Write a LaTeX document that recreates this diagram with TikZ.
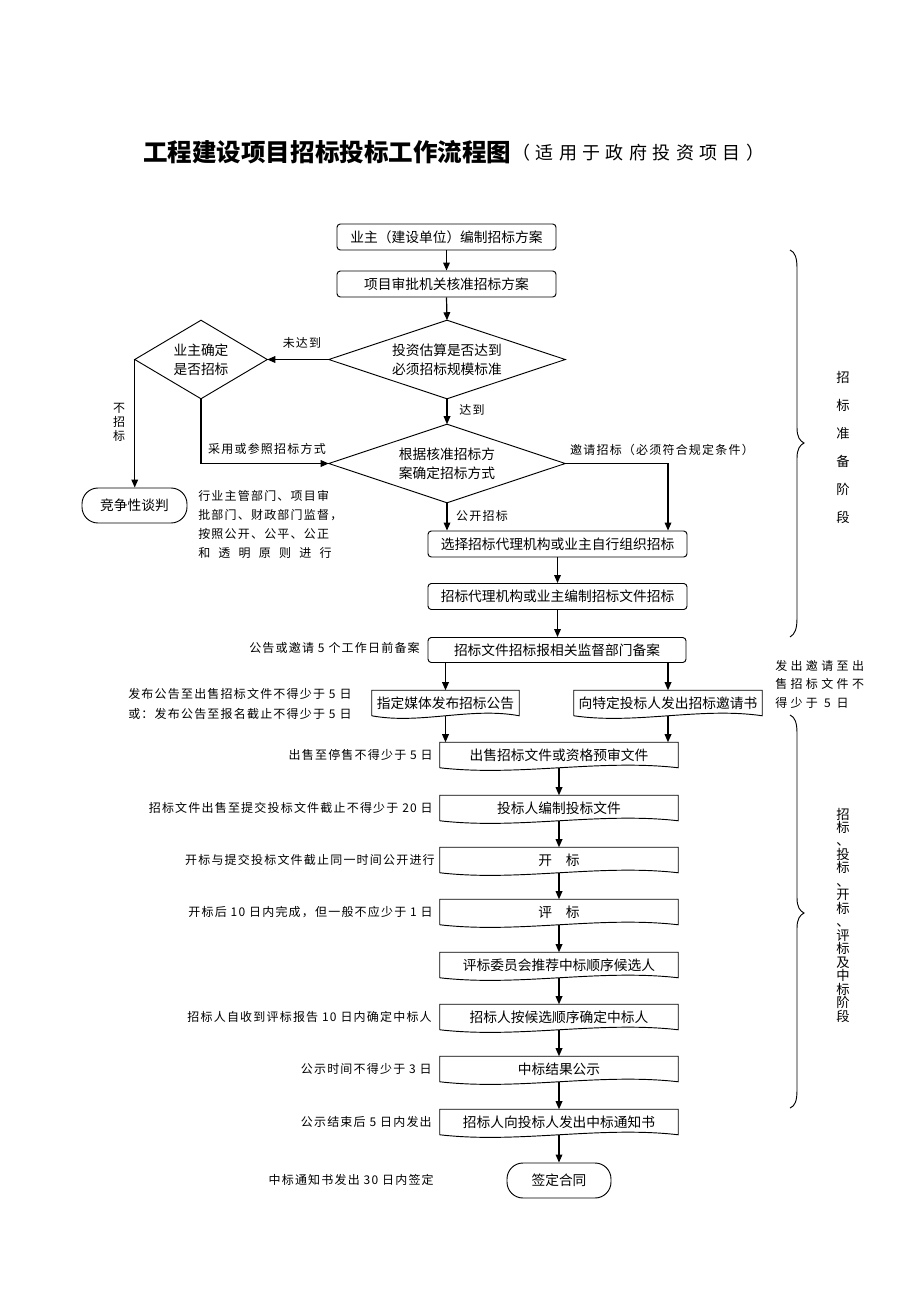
\documentclass[tikz,border=0pt]{standalone}
\usepackage{fontspec}
\setmainfont{Noto Sans CJK SC}
\newfontfamily\labf{Noto Sans CJK SC}[LetterSpace=10]
\newfontfamily\labw{Noto Sans CJK SC}[LetterSpace=28]
\newfontfamily\subf{Noto Sans CJK SC}[LetterSpace=30]
\usetikzlibrary{arrows.meta,calc}
\begin{document}
\begin{tikzpicture}[x=0.75pt,y=0.75pt,
  every node/.style={inner sep=0pt},
  bt/.style={font=\fontsize{10.3}{14.25}\selectfont},
  box/.style={bt, draw, line width=0.7pt, rounded corners=2.5pt, minimum width=#1*0.75pt, minimum height=26*0.75pt},
  doc/.style={bt, minimum width=#1*0.75pt, minimum height=25*0.75pt},
  dia/.style={bt, align=center, minimum width=#1*0.75pt, minimum height=78*0.75pt},
  stad/.style={bt, draw, line width=0.7pt, rounded corners=12pt},
  arr/.style={-{Triangle[length=6pt,width=5pt]}, line width=0.9pt},
  lab/.style={font=\labf\fontsize{9}{11}\selectfont},
  brace/.style={line width=0.7pt}
]
\useasboundingbox (0,0) rectangle (920,-1302);
\fill[white] (0,0) rectangle (920,-1302);

% title
\node[anchor=west, font=\bfseries\fontsize{18.4}{20}\selectfont] (title) at (143,-152) {工程建设项目招标投标工作流程图};
\node[anchor=west, font=\subf\fontsize{13.5}{15}\selectfont] (sub) at (512,-153) {（适用于政府投资项目）};

% main nodes
\node[box=219] (b1) at (446.5,-237) {业主（建设单位）编制招标方案};
\node[box=219] (b2) at (446.5,-284) {项目审批机关核准招标方案};
\node[dia=236] (d1) at (447,-359.5) {投资估算是否达到\\必须招标规模标准};
\node[dia=132] (d2) at (201,-359.5) {业主确定\\是否招标};
\node[dia=236] (d3) at (447,-463.5) {根据核准招标方\\案确定招标方式};
\node[stad, minimum width=105*0.75pt, minimum height=35*0.75pt] (neg) at (134.5,-505.5) {竞争性谈判};
\node[box=259] (b3) at (557.5,-544) {选择招标代理机构或业主自行组织招标};
\node[box=259] (b4) at (557.5,-596.5) {招标代理机构或业主编制招标文件招标};
\node[box=258, minimum height=25*0.75pt] (b5) at (557,-650) {招标文件招标报相关监督部门备案};
\node[doc=147] (lb) at (445.5,-703) {指定媒体发布招标公告};
\node[doc=188] (rb) at (668,-703) {向特定投标人发出招标邀请书};
\node[doc=238] (s1) at (559,-755) {出售招标文件或资格预审文件};
\node[doc=238] (s2) at (559,-808) {投标人编制投标文件};
\node[doc=238] (s3) at (559,-860) {开\quad 标};
\node[doc=238] (s4) at (559,-912) {评\quad 标};
\node[doc=238] (s5) at (559,-965) {评标委员会推荐中标顺序候选人};
\node[doc=238] (s6) at (559,-1017) {招标人按候选顺序确定中标人};
\node[doc=238] (s7) at (559,-1069) {中标结果公示};
\node[doc=238] (s8) at (559,-1122) {招标人向投标人发出中标通知书};
\node[stad, minimum width=104*0.75pt, minimum height=35*0.75pt] (end) at (559,-1180.5) {签定合同};

% diamond outlines
\foreach \n in {d1,d2,d3}{
  \draw[line width=0.7pt] (\n.north) -- (\n.east) -- (\n.south) -- (\n.west) -- cycle;
}
% document shapes
\foreach \n in {lb,rb,s1,s2,s3,s4,s5,s6,s7,s8}{
  \draw[line width=0.7pt] (\n.south west) -- (\n.north west) -- (\n.north east) -- (\n.south east)
    .. controls ($(\n.south east)!0.33!(\n.south west)+(0,9)$) and ($(\n.south east)!0.67!(\n.south west)+(0,-9)$) .. (\n.south west);
}

% connectors
\draw[arr] (b1.south) -- (b2.north);
\draw[arr] (b2.south) -- (d1.north);
\draw[arr] (d1.west) -- (d2.east);
\draw[arr] (d2.west) -- (d2.west |- neg.north);
\draw[arr] (d2.south) -- (d2.south |- d3.west) -- (d3.west);
\draw[arr] (d1.south) -- (d3.north);
\draw[arr] (d3.east) -- (d3.east -| rb.north) -- (rb.north |- b3.north);
\draw[arr] (d3.south) -- (d3.south |- b3.north);
\draw[arr] (b3.south) -- (b4.north);
\draw[arr] (b4.south) -- (b4.south |- b5.north);
\draw[arr] (b5.south -| lb.north) -- (lb.north);
\draw[arr] (b5.south -| rb.north) -- (rb.north);
\draw[arr] (lb.south) -- (lb.south |- s1.north);
\draw[arr] (rb.south) -- (rb.south |- s1.north);
\draw[arr] (s1.south) -- (s2.north);
\draw[arr] (s2.south) -- (s3.north);
\draw[arr] (s3.south) -- (s4.north);
\draw[arr] (s4.south) -- (s5.north);
\draw[arr] (s5.south) -- (s6.north);
\draw[arr] (s6.south) -- (s7.north);
\draw[arr] (s7.south) -- (s8.north);
\draw[arr] (s8.south) -- (end.north);

% connector labels
\node[lab] (t1) at (302,-343) {未达到};
\node[lab] (t2) at (472,-410) {达到};
\node[lab, align=center, font=\labf\fontsize{9}{10.5}\selectfont] (t3) at (119,-422) {不\\招\\标};
\node[lab] (t4) at (267,-449) {采用或参照招标方式};
\node[lab] (t5) at (662,-450) {邀请招标（必须符合规定条件）};
\node[lab] (t6) at (482,-516) {公开招标};
\node[lab, anchor=north west, align=left, font=\labf\fontsize{9}{14.25}\selectfont] (t7) at (198,-490)
  {行业主管部门、项目审\\批部门、财政部门监督，\\按照公开、公平、公正\\\makebox[100pt][s]{和\hfill 透\hfill 明\hfill 原\hfill 则\hfill 进\hfill 行}};
\node[lab, anchor=east] (t8) at (420,-648) {公告或邀请 5 个工作日前备案};
\node[lab, anchor=west, align=left, font=\labf\fontsize{9}{15}\selectfont] (t9) at (128,-704)
  {发布公告至出售招标文件不得少于 5 日\\或：发布公告至报名截止不得少于 5 日};
\node[anchor=north west, align=left, font=\labw\fontsize{9}{13.9}\selectfont] (t10) at (775,-660)
  {发出邀请至出\\售招标文件不\\得少于 5 日};
\node[lab, anchor=east] (u1) at (433,-755) {出售至停售不得少于 5 日};
\node[lab, anchor=east] (u2) at (433,-808) {招标文件出售至提交投标文件截止不得少于 20 日};
\node[lab, anchor=east] (u3) at (435,-860) {开标与提交投标文件截止同一时间公开进行};
\node[lab, anchor=east] (u4) at (433,-912) {开标后 10 日内完成，但一般不应少于 1 日};
\node[lab, anchor=east] (u5) at (432,-1017) {招标人自收到评标报告 10 日内确定中标人};
\node[lab, anchor=east] (u6) at (432,-1069) {公示时间不得少于 3 日};
\node[lab, anchor=east] (u7) at (432,-1122) {公示结束后 5 日内发出};
\node[lab, anchor=east] (u8) at (434,-1180) {中标通知书发出 30 日内签定};

% braces
\draw[brace] (790,-250) .. controls (795,-252) and (797,-258) .. (797,-268) -- (797,-428)
  .. controls (797,-437) and (800,-441) .. (804,-443) .. controls (800,-445) and (797,-449) .. (797,-458)
  -- (797,-618) .. controls (797,-629) and (795,-634) .. (790,-637);
\draw[brace] (790,-715) .. controls (795,-717) and (797,-723) .. (797,-733) -- (797,-898)
  .. controls (797,-907) and (800,-911) .. (804,-913) .. controls (800,-915) and (797,-919) .. (797,-928)
  -- (797,-1090) .. controls (797,-1101) and (795,-1106) .. (790,-1108);
\node[align=center, font=\fontsize{10}{21}\selectfont] (p1) at (843,-447) {招\\标\\准\\备\\阶\\段};
\node[align=center, font=\fontsize{10}{10.1}\selectfont] (p2) at (843,-915) {招\\标\\、\\投\\标\\、\\开\\标\\、\\评\\标\\及\\中\\标\\阶\\段};
\end{tikzpicture}
\end{document}
